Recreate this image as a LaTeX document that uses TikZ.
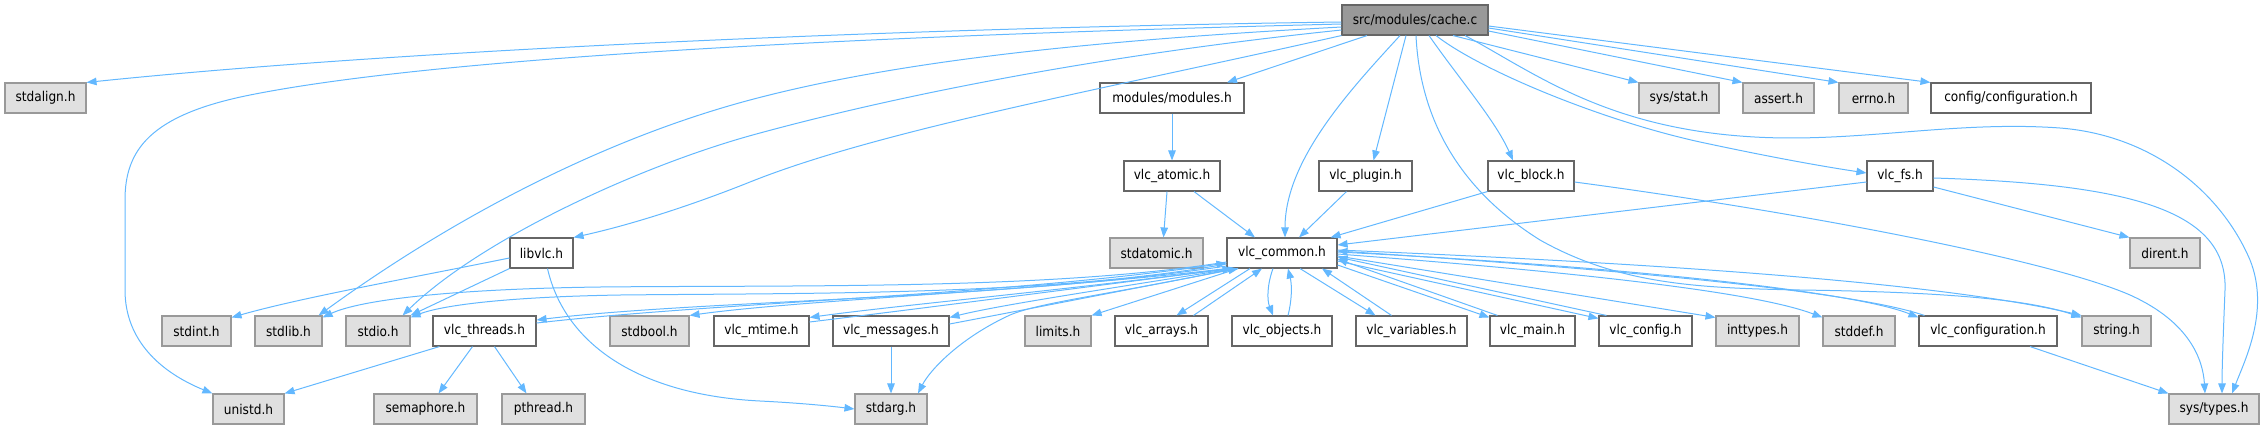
\documentclass[tikz,border=0pt]{standalone}
\usepackage{fontspec}
\setmainfont{DejaVu Sans}[FakeStretch=0.9]
\usetikzlibrary{arrows.meta}
\definecolor{edgec}{HTML}{63B8FF}
\definecolor{wborder}{HTML}{666666}
\definecolor{gborder}{HTML}{999999}
\definecolor{gfill}{HTML}{E0E0E0}
\definecolor{rfill}{HTML}{999999}
\tikzset{
  hbox/.style={draw, line width=1.1pt, minimum height=30pt, inner sep=0pt, font=\fontsize{13.5}{16}\selectfont},
  wbox/.style={hbox, fill=white, draw=wborder},
  gbox/.style={hbox, fill=gfill, draw=gborder},
  rbox/.style={hbox, fill=rfill, draw=wborder},
  dep/.style={draw=edgec, line width=1pt, -{Triangle[length=10pt,width=7.5pt]}},
}
\begin{document}
\begin{tikzpicture}[x=1pt,y=-1pt]
\useasboundingbox (0,0) rectangle (2268,429);
% row 0
\node[rbox, minimum width=146pt] (cache) at (1415,20) {src/modules/cache.c};
% row 1
\node[gbox, minimum width=81pt] (stdalign) at (45.5,98) {stdalign.h};
\node[wbox, minimum width=144pt] (modules) at (1172,98) {modules/modules.h};
\node[gbox, minimum width=80pt] (sysstat) at (1679,98) {sys/stat.h};
\node[gbox, minimum width=71pt] (assert) at (1778.5,98) {assert.h};
\node[gbox, minimum width=69pt] (errno) at (1873.5,98) {errno.h};
\node[wbox, minimum width=160pt] (configcfg) at (2011,98) {config/configuration.h};
% row 2
\node[wbox, minimum width=96pt] (atomic) at (1172,176) {vlc\_atomic.h};
\node[wbox, minimum width=93pt] (plugin) at (1365.5,176) {vlc\_plugin.h};
\node[wbox, minimum width=86pt] (block) at (1531,176) {vlc\_block.h};
\node[wbox, minimum width=66pt] (fs) at (1900,176) {vlc\_fs.h};
% row 3
\node[wbox, minimum width=63pt] (libvlc) at (541.5,253) {libvlc.h};
\node[gbox, minimum width=93pt] (stdatomic) at (1156.5,253) {stdatomic.h};
\node[wbox, minimum width=110pt] (common) at (1282,253) {vlc\_common.h};
\node[gbox, minimum width=70pt] (dirent) at (2165,253) {dirent.h};
% row 4
\node[gbox, minimum width=69pt] (stdint) at (196.5,331) {stdint.h};
\node[gbox, minimum width=67pt] (stdlib) at (288.5,331) {stdlib.h};
\node[gbox, minimum width=64pt] (stdio) at (378,331) {stdio.h};
\node[wbox, minimum width=103pt] (threads) at (484.5,331) {vlc\_threads.h};
\node[gbox, minimum width=79pt] (stdbool) at (649.5,331) {stdbool.h};
\node[wbox, minimum width=95pt] (mtime) at (761.5,331) {vlc\_mtime.h};
\node[wbox, minimum width=116pt] (messages) at (891,331) {vlc\_messages.h};
\node[gbox, minimum width=66pt] (limits) at (1058,331) {limits.h};
\node[wbox, minimum width=93pt] (arrays) at (1161.5,331) {vlc\_arrays.h};
\node[wbox, minimum width=100pt] (objects) at (1282,331) {vlc\_objects.h};
\node[wbox, minimum width=111pt] (variables) at (1411.5,331) {vlc\_variables.h};
\node[wbox, minimum width=85pt] (main) at (1532.5,331) {vlc\_main.h};
\node[wbox, minimum width=93pt] (config) at (1645.5,331) {vlc\_config.h};
\node[gbox, minimum width=83pt] (inttypes) at (1757.5,331) {inttypes.h};
\node[gbox, minimum width=72pt] (stddef) at (1859,331) {stddef.h};
\node[wbox, minimum width=138pt] (configuration) at (1988,331) {vlc\_configuration.h};
\node[gbox, minimum width=69pt] (string) at (2116.5,331) {string.h};
% row 5
\node[gbox, minimum width=71pt] (unistd) at (248.5,409) {unistd.h};
\node[gbox, minimum width=103pt] (semaphore) at (425.5,409) {semaphore.h};
\node[gbox, minimum width=83pt] (pthread) at (543.5,409) {pthread.h};
\node[gbox, minimum width=72pt] (stdarg) at (891,409) {stdarg.h};
\node[gbox, minimum width=90pt] (systypes) at (2214,409) {sys/types.h};

% edges from cache.c
\draw[dep] ([yshift=-2pt]cache.west) .. controls (900,28) and (400,50) .. (stdalign.north east);
\draw[dep] ([yshift=-4pt]cache.west) .. controls (900,35) and (450,55) .. (250,95)
  .. controls (150,115) and (125,150) .. (125,200) -- (125,290)
  .. controls (125,340) and (160,372) .. (unistd.north west);
\draw[dep] ([yshift=-7pt]cache.west) .. controls (1100,40) and (900,60) .. (750,100)
  .. controls (600,140) and (450,220) .. ([xshift=-4pt]stdlib.north east);
\draw[dep] ([yshift=-10pt]cache.west) .. controls (1100,55) and (900,95) .. (760,133)
  .. controls (640,165) and (480,240) .. ([xshift=-8pt]stdio.north east);
\draw[dep] (cache.south west) .. controls (1100,90) and (880,130) .. (750,182)
  .. controls (690,206) and (630,225) .. (libvlc.north east);
\draw[dep] ([xshift=-48pt]cache.south) -- ([xshift=55pt]modules.north);
\draw[dep] ([xshift=-15pt]cache.south) .. controls (1350,90) and (1285,160) .. ([xshift=3pt]common.north);
\draw[dep] ([xshift=-9pt]cache.south) -- ([xshift=8pt]plugin.north);
\draw[dep] ([xshift=1pt]cache.south) .. controls (1420,120) and (1460,190) .. (1540,240)
  .. controls (1620,285) and (1700,288) .. (1800,290)
  .. controls (1950,292) and (2030,300) .. ([yshift=-2pt]string.north west);
\draw[dep] ([xshift=14pt]cache.south) .. controls (1460,80) and (1495,120) .. ([xshift=-18pt]block.north);
\draw[dep] ([xshift=21pt]cache.south) .. controls (1480,70) and (1600,120) .. (1700,142)
  .. controls (1770,157) and (1820,166) .. ([yshift=3pt]fs.west);
\draw[dep] ([xshift=38pt]cache.south) -- (sysstat.north west);
\draw[dep] ([yshift=-11pt]cache.east) -- (assert.north west);
\draw[dep] ([yshift=-8pt]cache.east) -- (errno.north west);
\draw[dep] ([yshift=-6pt]cache.east) -- (configcfg.north west);
\draw[dep] ([xshift=50pt]cache.south) .. controls (1530,70) and (1600,125) .. (1740,136)
  .. controls (1850,145) and (1950,120) .. (2060,128)
  .. controls (2150,135) and (2220,190) .. (2250,260)
  .. controls (2270,310) and (2245,360) .. ([xshift=18pt]systypes.north);

% second level
\draw[dep] (modules.south) -- (atomic.north);
\draw[dep] ([xshift=-5pt]atomic.south) -- ([xshift=7pt]stdatomic.north);
\draw[dep] ([xshift=22pt]atomic.south) -- ([xshift=-27pt]common.north);
\draw[dep] ([xshift=-19pt]plugin.south) -- ([xshift=17pt]common.north);
\draw[dep] (block.south west) -- ([xshift=-7pt]common.north east);
\draw[dep] ([yshift=-6pt]block.east) .. controls (1800,212) and (2050,260) .. (2130,295)
  .. controls (2190,322) and (2203,360) .. ([xshift=-9pt]systypes.north);
\draw[dep] ([yshift=-6pt]fs.west) -- ([yshift=8pt]common.east);
\draw[dep] ([yshift=-11pt]fs.east) -- (dirent.north west);
\draw[dep] ([yshift=-2pt]fs.east) .. controls (2130,184) and (2228,210) .. (2225,290)
  .. controls (2223,340) and (2222,370) .. ([xshift=8pt]systypes.north);
\draw[dep] ([xshift=42pt]configuration.south) -- (systypes.north west);

% libvlc
\draw[dep] ([yshift=-5pt]libvlc.west) .. controls (400,280) and (300,298) .. ([yshift=-2pt]stdint.north east);
\draw[dep] (libvlc.south west) -- (stdio.north east);
\draw[dep] ([xshift=6pt]libvlc.south) .. controls (565,345) and (640,395) .. (760,401)
  .. controls (800,403) and (830,406) .. (stdarg.west);

% vlc_common to the left
\draw[dep] ([yshift=-9pt]common.west) .. controls (1050,290) and (800,285) .. (600,287)
  .. controls (450,289) and (360,300) .. ([yshift=-2pt]stdlib.north east);
\draw[dep] ([yshift=-11pt]common.west) .. controls (1050,296) and (800,293) .. (620,295)
  .. controls (500,297) and (440,306) .. ([yshift=-2pt]stdio.north east);
\draw[dep] ([yshift=-13pt]common.west) .. controls (1000,300) and (700,300) .. ([yshift=11pt]threads.east);
\draw[dep] ([yshift=8pt]threads.east) .. controls (720,302) and (1000,296) .. ([yshift=-10pt]common.west);
\draw[dep] (common.south west) .. controls (1050,290) and (800,300) .. (stdbool.north east);
\draw[dep] ([xshift=3pt]common.south west) .. controls (1050,292) and (900,305) .. ([yshift=-2pt]mtime.north east);
\draw[dep] ([yshift=9pt]mtime.east) .. controls (950,305) and (1100,285) .. ([xshift=6pt]common.south west);
\draw[dep] ([xshift=8pt]common.south west) .. controls (1100,290) and (1000,305) .. ([yshift=-2pt]messages.north east);
\draw[dep] ([yshift=7pt]messages.east) .. controls (1050,305) and (1150,285) .. ([xshift=12pt]common.south west);
\draw[dep] (messages.south) -- (stdarg.north);
\draw[dep] ([xshift=-48pt]common.south) .. controls (1120,293) and (1040,302) .. (1010,315)
  .. controls (960,338) and (930,370) .. ([xshift=27pt]stdarg.north);
\draw[dep] ([xshift=-44pt]common.south) -- (limits.north east);
\draw[dep] ([xshift=-32pt]common.south) -- ([xshift=15pt]arrays.north);
\draw[dep] ([xshift=32pt]arrays.north) -- ([xshift=-20pt]common.south);
\draw[dep] ([xshift=-9pt]common.south) .. controls (1267,285) and (1267,300) .. ([xshift=-9pt]objects.north);
\draw[dep] ([xshift=6pt]objects.north) .. controls (1292,300) and (1292,285) .. ([xshift=6pt]common.south);
\draw[dep] ([xshift=18pt]common.south) -- ([xshift=-36pt]variables.north);
\draw[dep] ([xshift=-20pt]variables.north) -- ([xshift=40pt]common.south);
% vlc_common to the right
\draw[dep] ([yshift=-12pt]common.east) -- ([yshift=-2pt]main.north west);
\draw[dep] ([xshift=8pt]main.north west) -- ([yshift=-6pt]common.east);
\draw[dep] ([yshift=-8pt]common.east) -- ([yshift=-3pt]config.north west);
\draw[dep] ([xshift=8pt]config.north west) -- ([yshift=-4pt]common.east);
\draw[dep] ([yshift=-3pt]common.east) -- ([yshift=-2pt]inttypes.north west);
\draw[dep] ([yshift=-1pt]common.east) .. controls (1550,270) and (1750,290) .. ([yshift=-2pt]stddef.north west);
\draw[dep] ([yshift=1pt]common.east) .. controls (1600,265) and (1850,290) .. ([yshift=-2pt]configuration.north west);
\draw[dep] ([xshift=6pt]configuration.north west) .. controls (1850,290) and (1600,268) .. ([yshift=2pt]common.east);
\draw[dep] ([yshift=3pt]common.east) .. controls (1700,265) and (1950,285) .. (string.north west);

% vlc_threads
\draw[dep] ([xshift=-45pt]threads.south) -- (unistd.north east);
\draw[dep] ([xshift=-12pt]threads.south) -- ([xshift=13pt]semaphore.north);
\draw[dep] ([xshift=10pt]threads.south) -- ([xshift=-17pt]pthread.north);
\end{tikzpicture}
\end{document}
